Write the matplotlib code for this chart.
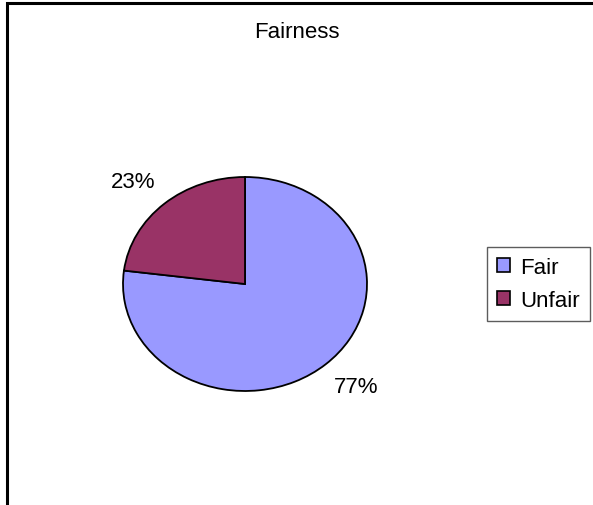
import matplotlib
matplotlib.use("Agg")
import matplotlib.pyplot as plt
from matplotlib.patches import Patch, Rectangle

plt.rcParams["font.family"] = ["Liberation Sans", "DejaVu Sans"]

# data
labels = ["Fair", "Unfair"]
shares = [77, 23]
colors = ["#9999FF", "#993366"]
title = "Fairness"

W, H = 593, 506
fig = plt.figure(figsize=(W / 100, H / 100), dpi=100)
fig.patch.set_facecolor("white")

# outer chart frame (runs off the right/bottom edge)
fig.patches.append(Rectangle((7 / W, -0.05), 1.2, 1 - 4 / H + 0.05,
                             transform=fig.transFigure, fill=False,
                             edgecolor="black", linewidth=2.2))

# pie area: plotted as an ellipse, so no equal aspect
ax = fig.add_axes([123 / W, (H - 392) / H, 244 / W, 214 / H])
wedges, texts, autotexts = ax.pie(
    shares, colors=colors, startangle=90, counterclock=False,
    autopct="%d%%", pctdistance=1.28,
    wedgeprops=dict(edgecolor="black", linewidth=1.3),
    textprops=dict(fontsize=16, color="black"),
)
# push the percentage labels a little further out sideways
for t in autotexts:
    x, y = t.get_position()
    t.set_position((x * 1.08, y))
ax.set_aspect("auto")
ax.set_xlim(-1, 1)
ax.set_ylim(-1, 1)

fig.text(297 / W, 1 - 33 / H, title, ha="center", va="center", fontsize=16)

handles = [Patch(facecolor=c, edgecolor="black", linewidth=1.2) for c in colors]
leg = fig.legend(handles, labels, loc="upper left",
                 bbox_to_anchor=(487 / W, 1 - 248 / H),
                 bbox_transform=fig.transFigure, borderaxespad=0,
                 fontsize=16, frameon=True, fancybox=False,
                 handlelength=0.6, handleheight=0.6, handletextpad=0.45,
                 borderpad=0.45, labelspacing=0.55)
leg.get_frame().set_edgecolor("#333333")
leg.get_frame().set_linewidth(1.0)

plt.savefig("out.png", dpi=100)
plt.close()
